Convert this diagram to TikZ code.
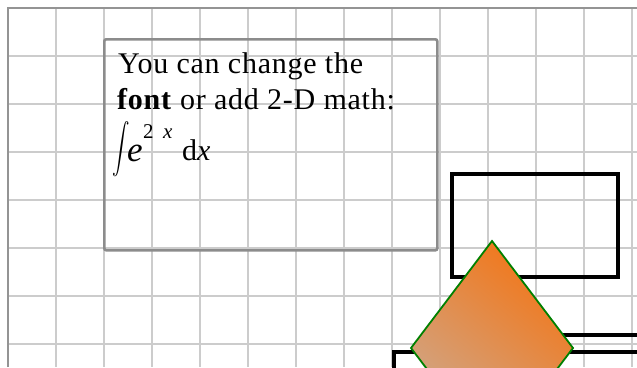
\documentclass[tikz,border=0pt]{standalone}
\usepackage{amsmath}
\usepackage{fontspec}
\setmainfont{Liberation Serif}
\begin{document}
\begin{tikzpicture}[x=1pt,y=-1pt,
  gridline/.style={draw=black!20,line width=1.3pt},
  gridborder/.style={draw=black!42,line width=1.5pt},
  textbox/.style={draw=black!45,line width=2.6pt,rounded corners=2pt},
  blackbox/.style={draw=black,line width=4pt},
  txt/.style={inner sep=0pt,anchor=base west,font=\fontsize{30}{36}\selectfont\addfontfeature{LetterSpace=2.5}},
  gem/.style={draw=green!50!black,line width=1.8pt,left color=tanc,right color=orangec,shading angle=140}
]
\definecolor{tanc}{HTML}{CDAA90}
\definecolor{orangec}{HTML}{F27618}
\useasboundingbox (0,0) rectangle (637,367);
\fill[white] (0,0) rectangle (637,367);
% grid
\foreach \x in {56,104,...,632} \draw[gridline] (\x,8) -- (\x,367);
\foreach \y in {56,104,...,344} \draw[gridline] (8,\y) -- (637,\y);
\draw[gridborder] (8,367) -- (8,8) -- (637,8);
% text box
\node[textbox,minimum width=333pt,minimum height=211pt,anchor=north west,inner sep=0pt] (box) at (103,38) {};
\node[txt] (l1) at (118,73) {You can change the};
\node[txt] (l2) at (117,109) {\textbf{font} or add 2-D math:};
\node[inner sep=0pt,anchor=north west,font=\fontsize{30}{30}\selectfont] (int) at (112,121) {\scalebox{0.7}[1]{$\displaystyle\int$}};
\node[inner sep=0pt,anchor=base west,font=\fontsize{35}{35}\selectfont] (e) at (127,161) {\textit{e}};
\node[inner sep=0pt,anchor=base west,font=\fontsize{21}{21}\selectfont] (sup2) at (143,138) {2};
\node[inner sep=0pt,anchor=base west,font=\fontsize{21}{21}\selectfont] (supx) at (163,138) {\textit{x}};
\node[txt] (dx) at (182,160) {d\textit{x}};
% rectangles
\node[blackbox,minimum width=166pt,minimum height=103pt,anchor=north west,inner sep=0pt] (r1) at (450,172) {};
\node[blackbox,minimum width=150pt,minimum height=100pt,anchor=north west,inner sep=0pt] (r2) at (540,333) {};
\node[blackbox,minimum width=300pt,minimum height=100pt,anchor=north west,inner sep=0pt] (r3) at (392,350) {};
% diamond
\coordinate (dt) at (492,241);
\coordinate (dl) at (411,348);
\coordinate (db) at (492,455);
\coordinate (dr) at (573,348);
\path[gem] (dt) -- (dr) -- (db) -- (dl) -- cycle;
\end{tikzpicture}
\end{document}
